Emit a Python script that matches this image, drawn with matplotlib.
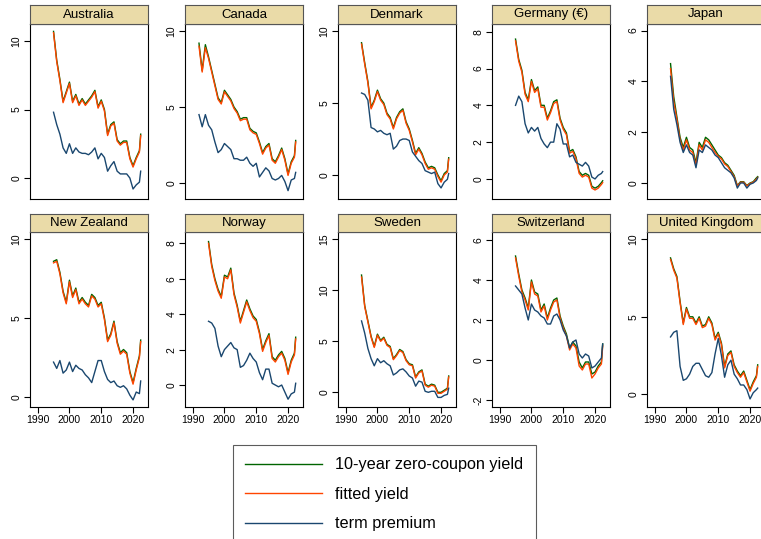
import matplotlib.pyplot as plt

plt.rcParams['font.family'] = ['Liberation Sans', 'DejaVu Sans']
plt.rcParams['axes.unicode_minus'] = False

# time axis (yearly readings, last point = latest observation)
years = list(range(1995, 2023)) + [2022.4]
years_ca = [1992, 1993, 1994] + years

# Australia
au_yield = [10.7, 8.6, 7.2, 5.6, 6.3, 7.0, 5.6, 6.1, 5.4, 5.8, 5.4, 5.7, 6.0, 6.4, 5.2,
            5.7, 5.0, 3.2, 3.9, 4.1, 2.8, 2.5, 2.7, 2.7, 1.5, 0.9, 1.5, 2.0, 3.2]
au_fitted = [10.6, 8.5, 7.1, 5.5, 6.2, 6.9, 5.5, 6.0, 5.3, 5.7, 5.3, 5.6, 5.9, 6.3, 5.1,
             5.6, 4.9, 3.1, 3.8, 4.0, 2.7, 2.4, 2.6, 2.6, 1.4, 0.8, 1.4, 1.9, 3.1]
au_tp = [4.8, 3.9, 3.2, 2.2, 1.8, 2.5, 1.8, 2.2, 1.9, 1.8, 1.8, 1.7, 1.9, 2.2, 1.4,
         1.8, 1.5, 0.5, 0.9, 1.2, 0.5, 0.3, 0.3, 0.3, 0.0, -0.8, -0.5, -0.3, 0.5]

# Canada (starts 1992)
ca_yield = [9.2, 7.4, 9.1, 8.3, 7.4, 6.5, 5.6, 5.3, 6.1, 5.8, 5.5, 5.0, 4.7, 4.2, 4.3, 4.3,
            3.6, 3.4, 3.3, 2.7, 2.0, 2.4, 2.6, 1.6, 1.4, 1.8, 2.3, 1.6, 0.6, 1.4, 1.8, 2.8]
ca_fitted = [9.0, 7.3, 8.9, 8.2, 7.3, 6.4, 5.5, 5.2, 6.0, 5.7, 5.4, 4.9, 4.6, 4.1, 4.2, 4.2,
             3.5, 3.3, 3.2, 2.6, 1.9, 2.3, 2.5, 1.5, 1.3, 1.7, 2.2, 1.5, 0.5, 1.3, 1.7, 2.7]
ca_tp = [4.5, 3.7, 4.5, 3.8, 3.5, 2.7, 2.0, 2.2, 2.6, 2.4, 2.2, 1.6, 1.6, 1.5, 1.5, 1.7,
         1.3, 1.1, 1.3, 0.4, 0.7, 1.0, 0.8, 0.3, 0.2, 0.3, 0.5, 0.1, -0.5, 0.2, 0.3, 0.7]

# Denmark
dk_yield = [9.2, 7.8, 6.5, 4.7, 5.2, 5.9, 5.3, 5.0, 4.3, 4.0, 3.3, 4.0, 4.4, 4.6, 3.7,
            3.2, 2.4, 1.5, 1.9, 1.5, 0.9, 0.5, 0.6, 0.5, 0.0, -0.4, 0.1, 0.3, 1.2]
dk_fitted = [9.1, 7.7, 6.4, 4.6, 5.1, 5.8, 5.2, 4.9, 4.2, 3.9, 3.2, 3.9, 4.3, 4.5, 3.6,
             3.1, 2.3, 1.4, 1.8, 1.4, 0.8, 0.4, 0.5, 0.4, -0.1, -0.5, 0.0, 0.2, 1.1]
dk_tp = [5.7, 5.6, 5.2, 3.3, 3.2, 3.0, 3.1, 2.9, 2.8, 2.9, 1.8, 2.0, 2.4, 2.5, 2.5,
         2.4, 1.6, 1.3, 1.0, 0.8, 0.3, 0.2, 0.1, 0.2, -0.6, -0.9, -0.5, -0.3, 0.1]

# Germany
de_yield = [7.6, 6.5, 5.9, 4.7, 4.3, 5.4, 4.8, 5.0, 4.0, 4.0, 3.3, 3.7, 4.2, 4.3, 3.3,
            2.8, 2.5, 1.5, 1.6, 1.2, 0.4, 0.2, 0.3, 0.2, -0.4, -0.5, -0.4, -0.2, -0.1]
de_fitted = [7.5, 6.4, 5.8, 4.6, 4.2, 5.3, 4.7, 4.9, 3.9, 3.9, 3.2, 3.6, 4.1, 4.2, 3.2,
             2.7, 2.4, 1.4, 1.5, 1.1, 0.3, 0.1, 0.2, 0.1, -0.5, -0.6, -0.5, -0.3, -0.2]
de_tp = [4.0, 4.5, 4.2, 3.0, 2.5, 2.8, 2.6, 2.8, 2.2, 1.9, 1.7, 2.0, 2.0, 3.0, 2.7,
         1.9, 1.9, 1.2, 1.3, 0.9, 0.8, 0.7, 0.9, 0.7, 0.1, 0.0, 0.2, 0.3, 0.4]

# Japan
jp_yield = [4.7, 3.4, 2.6, 1.8, 1.4, 1.8, 1.4, 1.3, 0.8, 1.6, 1.4, 1.8, 1.7, 1.5, 1.3,
            1.1, 1.0, 0.8, 0.7, 0.5, 0.3, -0.1, 0.05, 0.05, -0.1, 0.0, 0.05, 0.2, 0.25]
jp_fitted = [4.5, 3.2, 2.5, 1.7, 1.3, 1.7, 1.3, 1.2, 0.7, 1.5, 1.3, 1.7, 1.6, 1.4, 1.2,
             1.05, 0.95, 0.75, 0.65, 0.45, 0.25, -0.12, 0.03, 0.03, -0.12, -0.02, 0.03, 0.15, 0.22]
jp_tp = [4.2, 2.9, 2.3, 1.6, 1.2, 1.5, 1.2, 1.1, 0.6, 1.3, 1.2, 1.5, 1.4, 1.3, 1.1,
         1.0, 0.8, 0.6, 0.5, 0.4, 0.2, -0.2, 0.0, 0.0, -0.2, -0.05, 0.0, 0.1, 0.2]

# New Zealand
nz_yield = [8.6, 8.7, 7.9, 6.7, 6.0, 7.4, 6.4, 6.9, 6.0, 6.3, 6.0, 5.8, 6.5, 6.3, 5.8,
            6.0, 5.0, 3.6, 4.0, 4.8, 3.5, 2.8, 3.0, 2.8, 1.6, 0.9, 1.8, 2.6, 3.6]
nz_fitted = [8.5, 8.6, 7.8, 6.6, 5.9, 7.3, 6.3, 6.8, 5.9, 6.2, 5.9, 5.7, 6.4, 6.2, 5.7,
             5.9, 4.9, 3.5, 3.9, 4.7, 3.4, 2.7, 2.9, 2.7, 1.5, 0.8, 1.7, 2.5, 3.5]
nz_tp = [2.2, 1.8, 2.3, 1.5, 1.7, 2.2, 1.6, 2.0, 1.8, 1.7, 1.4, 1.2, 0.9, 1.6, 2.3,
         2.3, 1.6, 1.1, 0.9, 1.0, 0.7, 0.6, 0.7, 0.5, 0.1, -0.2, 0.3, 0.2, 1.0]

# Norway
no_yield = [8.1, 6.8, 6.0, 5.4, 5.0, 6.2, 6.1, 6.6, 5.2, 4.5, 3.6, 4.2, 4.8, 4.3, 3.9,
            3.7, 3.0, 2.0, 2.5, 2.9, 1.6, 1.4, 1.7, 1.9, 1.5, 0.7, 1.4, 1.8, 2.7]
no_fitted = [8.0, 6.7, 5.9, 5.3, 4.9, 6.1, 6.0, 6.5, 5.1, 4.4, 3.5, 4.1, 4.7, 4.2, 3.8,
             3.6, 2.9, 1.9, 2.4, 2.8, 1.5, 1.3, 1.6, 1.8, 1.4, 0.6, 1.3, 1.7, 2.6]
no_tp = [3.6, 3.5, 3.2, 2.2, 1.6, 2.0, 2.2, 2.4, 2.1, 2.0, 1.0, 1.1, 1.4, 1.8, 1.5,
         1.3, 0.7, 0.3, 0.9, 0.9, 0.1, 0.0, -0.1, 0.0, -0.4, -0.8, -0.5, -0.4, 0.1]

# Sweden
se_yield = [11.5, 8.5, 7.0, 5.5, 4.5, 5.7, 5.1, 5.4, 4.7, 4.5, 3.3, 3.7, 4.2, 4.0, 3.2,
            2.8, 2.7, 1.5, 2.0, 2.2, 0.8, 0.6, 0.8, 0.7, 0.0, 0.0, 0.2, 0.4, 1.6]
se_fitted = [11.3, 8.4, 6.9, 5.4, 4.4, 5.6, 5.0, 5.3, 4.6, 4.4, 3.2, 3.6, 4.1, 3.9, 3.1,
             2.7, 2.6, 1.4, 1.9, 2.1, 0.7, 0.5, 0.7, 0.6, -0.1, -0.1, 0.1, 0.3, 1.5]
se_tp = [7.0, 5.8, 4.3, 3.3, 2.6, 3.3, 2.9, 3.1, 2.8, 2.6, 1.7, 1.9, 2.2, 2.3, 2.0,
         1.6, 1.4, 0.6, 1.1, 1.0, 0.1, 0.0, 0.1, 0.1, -0.5, -0.5, -0.3, -0.2, 0.4]

# Switzerland
ch_yield = [5.2, 4.3, 3.5, 3.1, 2.6, 4.0, 3.4, 3.3, 2.5, 2.8, 2.1, 2.6, 3.0, 3.1, 2.2,
            1.7, 1.3, 0.6, 0.9, 0.7, -0.1, -0.4, -0.1, -0.1, -0.7, -0.6, -0.3, -0.1, 0.8]
ch_fitted = [5.1, 4.2, 3.4, 3.0, 2.5, 3.9, 3.3, 3.2, 2.4, 2.7, 2.0, 2.5, 2.9, 3.0, 2.1,
             1.6, 1.2, 0.5, 0.8, 0.6, -0.3, -0.5, -0.2, -0.2, -0.9, -0.7, -0.4, -0.2, 0.7]
ch_tp = [3.7, 3.5, 3.3, 2.6, 2.0, 2.8, 2.5, 2.4, 2.2, 2.1, 1.8, 1.8, 2.2, 2.3, 2.0,
         1.5, 1.2, 0.6, 0.9, 1.0, 0.3, 0.1, 0.3, 0.2, -0.4, -0.3, -0.1, 0.1, 0.8]

# United Kingdom
uk_yield = [8.8, 8.1, 7.6, 6.0, 4.6, 5.6, 5.0, 5.0, 4.6, 5.0, 4.4, 4.5, 5.0, 4.6, 3.6,
            4.0, 3.3, 1.8, 2.6, 2.8, 1.9, 1.5, 1.2, 1.5, 0.9, 0.3, 0.8, 1.2, 1.9]
uk_fitted = [8.7, 8.0, 7.5, 5.9, 4.5, 5.5, 4.9, 4.9, 4.5, 4.9, 4.3, 4.4, 4.9, 4.5, 3.5,
             3.9, 3.2, 1.7, 2.5, 2.7, 1.8, 1.4, 1.1, 1.4, 0.8, 0.2, 0.7, 1.1, 1.8]
uk_tp = [3.7, 4.0, 4.1, 1.8, 0.9, 1.0, 1.3, 1.8, 2.0, 2.0, 1.6, 1.2, 1.1, 1.4, 2.6,
         3.6, 2.5, 1.1, 1.9, 2.2, 1.3, 1.0, 0.6, 0.6, 0.3, -0.3, 0.1, 0.3, 0.4]

countries = ['Australia', 'Canada', 'Denmark', 'Germany (€)', 'Japan',
             'New Zealand', 'Norway', 'Sweden', 'Switzerland', 'United Kingdom']
series = [(years, au_yield, au_fitted, au_tp), (years_ca, ca_yield, ca_fitted, ca_tp),
          (years, dk_yield, dk_fitted, dk_tp), (years, de_yield, de_fitted, de_tp),
          (years, jp_yield, jp_fitted, jp_tp), (years, nz_yield, nz_fitted, nz_tp),
          (years, no_yield, no_fitted, no_tp), (years, se_yield, se_fitted, se_tp),
          (years, ch_yield, ch_fitted, ch_tp), (years, uk_yield, uk_fitted, uk_tp)]
yticks = [[0, 5, 10], [0, 5, 10], [0, 5, 10], [0, 2, 4, 6, 8], [0, 2, 4, 6],
          [0, 5, 10], [0, 2, 4, 6, 8], [0, 5, 10, 15], [-2, 0, 2, 4, 6], [0, 5, 10]]
ylims = [(-1.53, 11.24), (-1.05, 10.46), (-1.67, 10.5), (-1.09, 8.42), (-0.63, 6.26),
         (-0.65, 10.46), (-1.24, 8.64), (-1.44, 15.72), (-2.35, 6.4), (-0.82, 10.47)]
xticks = [1990, 2000, 2010, 2020]

GREEN, ORANGE, NAVY = '#006400', '#ff4500', '#1a476f'
STRIP = '#eadba8'

W, H = 761, 539
fig = plt.figure(figsize=(W / 100, H / 100), dpi=100)


def box(x, y, w, h):
    return [x / W, 1 - (y + h) / H, w / W, h / H]


col_x = [30, 185, 338, 492, 647]
rows = [(5, 24, 199), (214, 232, 407)]
pw = 118

for i, name in enumerate(countries):
    r, c = divmod(i, 5)
    s_top, p_top, p_bot = rows[r]
    ax = fig.add_axes(box(col_x[c], p_top, pw, p_bot - p_top))
    x, y1, y2, y3 = series[i]
    l1, = ax.plot(x, y1, color=GREEN, lw=1.0)
    l2, = ax.plot(x, y2, color=ORANGE, lw=1.0)
    l3, = ax.plot(x, y3, color=NAVY, lw=1.0)
    ax.set_xlim(1987.6, 2024.7)
    ax.set_ylim(*ylims[i])
    ax.set_yticks(yticks[i])
    ax.tick_params(axis='y', labelsize=7.5, length=4, width=0.8, pad=2, labelrotation=90)
    for lbl in ax.get_yticklabels():
        lbl.set_va('center')
    if r == 1:
        ax.set_xticks(xticks)
        ax.tick_params(axis='x', labelsize=7.5, length=4, width=0.8, pad=2)
    else:
        ax.set_xticks([])
    for sp in ax.spines.values():
        sp.set_linewidth(0.8)
        sp.set_color('black')

    st = fig.add_axes(box(col_x[c], s_top, pw, p_top - s_top))
    st.set_facecolor(STRIP)
    st.set_xticks([])
    st.set_yticks([])
    for sp in st.spines.values():
        sp.set_linewidth(0.8)
        sp.set_color('#555555')
    st.text(0.5, 0.5, name, ha='center', va='center', fontsize=9.5, transform=st.transAxes)

    if i == 0:
        handles = [l1, l2, l3]

leg = fig.legend(handles, ['10-year zero-coupon yield', 'fitted yield', 'term premium'],
                 loc='upper left', bbox_to_anchor=(233 / W, 1 - 445 / H),
                 frameon=True, fancybox=False, edgecolor='#333333', fontsize=11.7,
                 handlelength=4.7, handletextpad=0.85, labelspacing=0.9,
                 borderpad=0.75, borderaxespad=0)
leg.get_frame().set_linewidth(0.8)

fig.savefig('out.png', dpi=100)
